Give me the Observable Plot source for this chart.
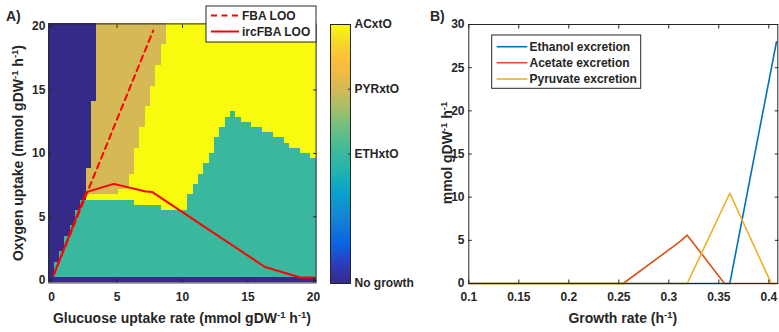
<!DOCTYPE html>
<html><head><meta charset="utf-8">
<script src="https://cdn.jsdelivr.net/npm/d3@7"></script>
<script src="https://cdn.jsdelivr.net/npm/@observablehq/plot@0.6"></script>
<style>
html,body{margin:0;padding:0;background:#fff;}
#wrap{position:relative;width:779px;height:332px;overflow:hidden;font-family:"Liberation Sans",Arial,sans-serif;font-weight:bold;color:#262626;}
#wrap svg{position:absolute;top:0;}
</style>
</head><body>
<div id="wrap"></div>
<script>
// ---------------- DATA ----------------
// Panel A: phenotype map on a 50 x 50 grid (glucose 0..20, oxygen 0..20)
const categoryNames = ["No growth", "ETHxtO", "PYRxtO", "ACxtO"];
const categoryCodes = [0, 2, 3, 4];
const gridSize = 50;
// highest oxygen row index (per glucose column) that is ETHxtO
const ethTop = [0,3,5,8,10,13,15,15,15,15,15,15,15,15,15,15,14,14,14,14,14,13,13,13,13,13,16,18,20,22,24,27,29,31,32,31,30,30,29,29,28,28,27,27,26,25,25,24,24,23];
// PYRxtO row range per column (null = none)
const pyrFrom = [null,null,null,null,null,null,null,17,17,17,17,17,17,18,18,21,26,30,34,38,42,46,null,null,null,null,null,null,null,null,null,null,null,null,null,null,null,null,null,null,null,null,null,null,null,null,null,null,null,null];
const pyrTo   = [null,null,null,null,null,null,null,21,34,49,49,49,49,49,49,49,49,49,49,49,49,49,null,null,null,null,null,null,null,null,null,null,null,null,null,null,null,null,null,null,null,null,null,null,null,null,null,null,null,null];
// first row of the upper "No growth" region per column (null = none)
const noGrowthFrom = [1,4,6,9,11,14,16,22,35,null,null,null,null,null,null,null,null,null,null,null,null,null,null,null,null,null,null,null,null,null,null,null,null,null,null,null,null,null,null,null,null,null,null,null,null,null,null,null,null,null];

const fbaLooGlucose = [0.15, 7.76];
const fbaLooOxygen  = [0.4, 19.68];
const ircLooGlucose = [0.15, 2.65, 4.75, 7.2, 7.7, 16.3, 19.0, 20.0];
const ircLooOxygen  = [0.4, 6.95, 7.6, 7.0, 6.95, 1.05, 0.22, 0.22];

const mapTicks = [0, 5, 10, 15, 20];

// Panel B: excretion vs growth rate
const seriesNames = ["Ethanol excretion", "Acetate excretion", "Pyruvate excretion"];
const seriesColors = ["#0072BD", "#D95319", "#EDB120"];
const ethanolGrowth = [0.1, 0.361, 0.4035, 0.4077];
const ethanolValue  = [0, 0, 25.5, 28.0];
const acetateGrowth = [0.1, 0.2544, 0.3117, 0.3184, 0.3557, 0.4077];
const acetateValue  = [0, 0, 4.9, 5.6, 0, 0];
const pyruvateGrowth = [0.1, 0.3184, 0.361, 0.4025, 0.4077];
const pyruvateValue  = [0, 0, 10.45, 0, 0];
const growthTicks = [0.1, 0.15, 0.2, 0.25, 0.3, 0.35, 0.4];
const growthTickLabels = ["0.1", "0.15", "0.2", "0.25", "0.3", "0.35", "0.4"];
const excretionTicks = [0, 5, 10, 15, 20, 25, 30];

// ---------------- COLORMAP (parula-like) ----------------
const parulaStops = [0, .08, .15, .25, .35, .43, .5, .6, .68, .75, .81, .87, .93, 1];
const parulaColors = ["#352a87","#2a3fc0","#0b63e0","#1484d4","#09a1cc","#20b3b0","#39b89d","#6fbf82","#a8be66","#d5b955","#eebb45","#fdc13a","#f5da28","#f9fb0e"];
const parulaScale = d3.scaleLinear().domain(parulaStops).range(parulaColors).interpolate(d3.interpolateRgb).clamp(true);
const parula = t => parulaScale(t);
const colorOpts = {type: "linear", domain: [0, 4], interpolate: parula};

// ---------------- BUILD MAP CELLS ----------------
const step = 20 / (gridSize - 1);
const cells = [];
for (let k = 0; k < gridSize; k++) {
  const codes = [];
  for (let j = 0; j < gridSize; j++) {
    let c;
    if (j === 0) c = 0;
    else if (j <= ethTop[k]) c = 2;
    else if (noGrowthFrom[k] != null && j >= noGrowthFrom[k]) c = 0;
    else if (pyrFrom[k] != null && j >= pyrFrom[k] && j <= pyrTo[k]) c = 3;
    else c = 4;
    codes.push(c);
  }
  let start = 0;
  for (let j = 1; j <= gridSize; j++) {
    if (j === gridSize || codes[j] !== codes[start]) {
      cells.push({x1: (k - 0.5) * step, x2: (k + 0.5) * step, y1: (start - 0.5) * step, y2: (j - 0.5) * step, code: codes[start]});
      start = j;
    }
  }
}
const fbaPts = fbaLooGlucose.map((g, i) => ({g, o: fbaLooOxygen[i]}));
const ircPts = ircLooGlucose.map((g, i) => ({g, o: ircLooOxygen[i]}));

const baseStyle = {fontFamily: "Liberation Sans, Arial, sans-serif", fontSize: "12px", fontWeight: "bold", color: "#262626", background: "transparent", overflow: "visible"};
const wrap = document.getElementById("wrap");

// ---------------- PANEL A ----------------
const half = step / 2;
const plotA = Plot.plot({
  width: 320, height: 332,
  marginLeft: 48.4, marginRight: 4.4, marginTop: 23.4, marginBottom: 49.6,
  style: baseStyle,
  x: {domain: [-half, 20 + half]},
  y: {domain: [-half, 20 + half]},
  color: colorOpts,
  marks: [
    Plot.rect(cells, {x1: "x1", x2: "x2", y1: "y1", y2: "y2", fill: "code", shapeRendering: "crispEdges"}),
    Plot.line(fbaPts, {x: "g", y: "o", stroke: "#ff0000", strokeWidth: 2, strokeDasharray: "6,4.5"}),
    Plot.line(ircPts, {x: "g", y: "o", stroke: "#ff0000", strokeWidth: 2}),
    Plot.frame({stroke: "#262626", strokeWidth: 1}),
    Plot.axisX({anchor: "bottom", ticks: mapTicks, tickSize: -3.5, tickPadding: 12.8, label: null}),
    Plot.axisX({anchor: "top", ticks: mapTicks, tickSize: -3.5, fill: "none", label: null}),
    Plot.axisY({anchor: "left", ticks: mapTicks, tickSize: -3.5, tickPadding: 7, label: null}),
    Plot.axisY({anchor: "right", ticks: mapTicks, tickSize: -3.5, fill: "none", label: null})
  ]
});
plotA.style.left = "0px";
wrap.appendChild(plotA);

// ---------------- COLORBAR ----------------
const bands = d3.range(256).map(i => ({v0: i * 4 / 256, v1: (i + 1) * 4 / 256, v: (i + 0.5) * 4 / 256}));
const plotC = Plot.plot({
  width: 120, height: 332,
  marginLeft: 10, marginRight: 90, marginTop: 24, marginBottom: 49,
  style: baseStyle,
  x: {domain: [0, 1], axis: null},
  y: {domain: [0, 4]},
  color: colorOpts,
  marks: [
    Plot.rect(bands, {x1: 0, x2: 1, y1: "v0", y2: "v1", fill: "v", shapeRendering: "crispEdges"}),
    Plot.frame({stroke: "#262626", strokeWidth: 1}),
    Plot.axisY({anchor: "right", ticks: categoryCodes, tickFormat: d => categoryNames[categoryCodes.indexOf(d)], tickSize: -3, tickPadding: 7, label: null})
  ]
});
plotC.style.left = "320px";
wrap.appendChild(plotC);

// ---------------- PANEL B ----------------
const seriesData = [
  ...ethanolGrowth.map((x, i) => ({x, y: ethanolValue[i], s: seriesNames[0]})),
  ...acetateGrowth.map((x, i) => ({x, y: acetateValue[i], s: seriesNames[1]})),
  ...pyruvateGrowth.map((x, i) => ({x, y: pyruvateValue[i], s: seriesNames[2]}))
];
const plotB = Plot.plot({
  width: 339, height: 332,
  marginLeft: 28.3, marginRight: 1.7, marginTop: 24, marginBottom: 49,
  style: baseStyle,
  x: {domain: [0.1, 0.409]},
  y: {domain: [0, 30]},
  color: {domain: seriesNames, range: seriesColors},
  marks: [
    Plot.line(seriesData, {x: "x", y: "y", z: "s", stroke: "s", strokeWidth: 1.6}),
    Plot.frame({stroke: "#262626", strokeWidth: 1}),
    Plot.axisX({anchor: "bottom", ticks: growthTicks, tickFormat: d => growthTickLabels[growthTicks.indexOf(d)], tickSize: -3.5, tickPadding: 12.2, label: null}),
    Plot.axisX({anchor: "top", ticks: growthTicks, tickSize: -3.5, fill: "none", label: null}),
    Plot.axisY({anchor: "left", ticks: excretionTicks, tickSize: -3.5, tickPadding: 7.8, label: null}),
    Plot.axisY({anchor: "right", ticks: excretionTicks, tickSize: -3.5, fill: "none", label: null})
  ]
});
plotB.style.left = "440px";
wrap.appendChild(plotB);

// ---------------- TEXT & LEGENDS OVERLAY ----------------
const ov = d3.select(wrap).append("svg")
  .attr("width", 779).attr("height", 332)
  .style("left", "0px").style("pointer-events", "none")
  .attr("font-family", "Liberation Sans, Arial, sans-serif").attr("font-weight", "bold").attr("fill", "#262626");

function labelWithSup(g, parts) {
  parts.forEach(p => {
    if (p.sup) g.append("tspan").attr("dy", -5).attr("font-size", 9.5).text(p.t);
    else if (p.after) g.append("tspan").attr("dy", 5).text(p.t);
    else g.append("tspan").text(p.t);
  });
}
ov.append("text").attr("x", 6).attr("y", 21).attr("font-size", 14).text("A)");
ov.append("text").attr("x", 430).attr("y", 21).attr("font-size", 14).text("B)");

const xa = ov.append("text").attr("x", 182).attr("y", 323).attr("font-size", 14).attr("text-anchor", "middle");
labelWithSup(xa, [{t: "Glucuose uptake rate (mmol gDW"}, {t: "-1", sup: true}, {t: " h", after: true}, {t: "-1", sup: true}, {t: ")", after: true}]);
const ya = ov.append("text").attr("transform", "translate(23,153) rotate(-90)").attr("font-size", 14).attr("text-anchor", "middle");
labelWithSup(ya, [{t: "Oxygen uptake (mmol gDW"}, {t: "-1", sup: true}, {t: " h", after: true}, {t: "-1", sup: true}, {t: ")", after: true}]);
const xb = ov.append("text").attr("x", 622.8).attr("y", 323).attr("font-size", 14).attr("text-anchor", "middle");
labelWithSup(xb, [{t: "Growth rate (h"}, {t: "-1", sup: true}, {t: ")", after: true}]);
const yb = ov.append("text").attr("transform", "translate(452,153) rotate(-90)").attr("font-size", 14).attr("text-anchor", "middle");
labelWithSup(yb, [{t: "mmol gDW"}, {t: "-1", sup: true}, {t: " h", after: true}, {t: "-1", sup: true}]);

// Legend A
const la = ov.append("g");
la.append("rect").attr("x", 206).attr("y", 6).attr("width", 110).attr("height", 36).attr("fill", "#fff").attr("stroke", "#262626").attr("stroke-width", 1);
la.append("line").attr("x1", 211).attr("x2", 239).attr("y1", 15.5).attr("y2", 15.5).attr("stroke", "#ff0000").attr("stroke-width", 2).attr("stroke-dasharray", "6,4.5");
la.append("line").attr("x1", 211).attr("x2", 239).attr("y1", 31.5).attr("y2", 31.5).attr("stroke", "#ff0000").attr("stroke-width", 2);
la.append("text").attr("x", 242).attr("y", 19.8).attr("font-size", 12).text("FBA LOO");
la.append("text").attr("x", 242).attr("y", 35.8).attr("font-size", 12).text("ircFBA LOO");

// Legend B
const lb = ov.append("g");
lb.append("rect").attr("x", 491.7).attr("y", 35).attr("width", 149).attr("height", 53.3).attr("fill", "#fff").attr("stroke", "#262626").attr("stroke-width", 1);
const legY = [46.7, 62.7, 79];
seriesNames.forEach((n, i) => {
  lb.append("line").attr("x1", 496.7).attr("x2", 527.3).attr("y1", legY[i]).attr("y2", legY[i]).attr("stroke", seriesColors[i]).attr("stroke-width", 1.6);
  lb.append("text").attr("x", 529.5).attr("y", legY[i] + 4.4).attr("font-size", 12).text(n);
});
</script>
</body></html>
